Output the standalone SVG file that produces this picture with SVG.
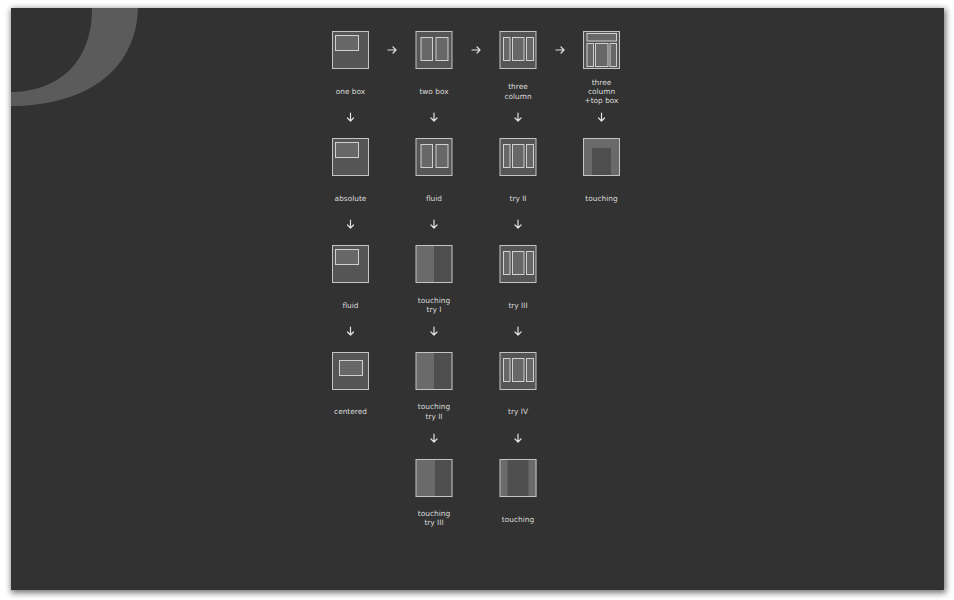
<svg xmlns="http://www.w3.org/2000/svg" width="954" height="600" viewBox="0 0 954 600">
<defs>
<filter id="sh" x="-5%" y="-5%" width="110%" height="110%"><feGaussianBlur stdDeviation="3"/></filter>
<clipPath id="pc"><rect x="11" y="8" width="933" height="582"/></clipPath>
<style>
.box{fill:#555;stroke:#c4c4c4;stroke-width:1}
.in{fill:#676767;stroke:#d0d0d0;stroke-width:1}
.lt{fill:#6a6a6a}
.dk{fill:#4e4e4e}
.fr{fill:none;stroke:#c4c4c4;stroke-width:1}
.lb{font-family:"DejaVu Sans",Verdana,sans-serif;font-size:7.4px;fill:#dcdcdc;text-anchor:middle}
.ar{fill:none;stroke:#e0e0e0;stroke-width:1.2;stroke-linecap:round;stroke-linejoin:round}
</style>
</defs>
<rect width="954" height="600" fill="#ffffff"/>
<rect x="11" y="9" width="935" height="584" fill="#000" opacity="0.55" filter="url(#sh)"/>
<rect x="11" y="8" width="933" height="582" fill="#323232"/>
<g clip-path="url(#pc)">
<path fill="#5b5b5b" d="M92,0 L92,8 C92,70 50,92 11,92 L0,92 L0,106 L11,106 C80,106 136,75 138,8 L138,0 Z"/>
</g>

<g id="connectors">
<path class="ar" d="M388,50 H396 M393,47 L396,50 L393,53"/>
<path class="ar" d="M472,50 H480 M477,47 L480,50 L477,53"/>
<path class="ar" d="M556,50 H564 M561,47 L564,50 L561,53"/>
<path class="ar" d="M350.5,113 V121 M347.5,118 L350.5,121 L353.5,118"/>
<path class="ar" d="M434,113 V121 M431,118 L434,121 L437,118"/>
<path class="ar" d="M518,113 V121 M515,118 L518,121 L521,118"/>
<path class="ar" d="M601.5,113 V121 M598.5,118 L601.5,121 L604.5,118"/>
<path class="ar" d="M350.5,220 V228 M347.5,225 L350.5,228 L353.5,225"/>
<path class="ar" d="M434,220 V228 M431,225 L434,228 L437,225"/>
<path class="ar" d="M518,220 V228 M515,225 L518,228 L521,225"/>
<path class="ar" d="M350.5,327 V335 M347.5,332 L350.5,335 L353.5,332"/>
<path class="ar" d="M434,327 V335 M431,332 L434,335 L437,332"/>
<path class="ar" d="M518,327 V335 M515,332 L518,335 L521,332"/>
<path class="ar" d="M434,434 V442 M431,439 L434,442 L437,439"/>
<path class="ar" d="M518,434 V442 M515,439 L518,442 L521,439"/>
</g>

<g id="one-box">
<rect class="box" x="332.5" y="31.5" width="36" height="37"/>
<rect class="in" x="335.5" y="35.5" width="23" height="15"/>
<text class="lb" x="350.5" y="93.5">one box</text>
</g>
<g id="two-box">
<rect class="box" x="416" y="31.5" width="36" height="37"/>
<rect class="in" x="421" y="37.5" width="11.5" height="23"/>
<rect class="in" x="436" y="37.5" width="12" height="23"/>
<text class="lb" x="434" y="93.5">two box</text>
</g>
<g id="three-column">
<rect class="box" x="500" y="31.5" width="36" height="37"/>
<rect class="in" x="503.5" y="37.5" width="6.5" height="23"/>
<rect class="in" x="512.5" y="37.5" width="11.5" height="23"/>
<rect class="in" x="526.5" y="37.5" width="7" height="23"/>
<text class="lb" x="518" y="89.2">three</text>
<text class="lb" x="518" y="98.5">column</text>
</g>
<g id="three-column-top-box">
<rect class="box" x="583.5" y="31.5" width="36" height="37"/>
<rect class="in" x="587" y="33.5" width="29.5" height="7.5"/>
<rect class="in" x="587" y="43.5" width="6.5" height="23"/>
<rect class="in" x="595.5" y="43.5" width="12.5" height="23"/>
<rect class="in" x="610" y="43.5" width="6.5" height="23"/>
<text class="lb" x="601.5" y="84.5">three</text>
<text class="lb" x="601.5" y="93.8">column</text>
<text class="lb" x="601.5" y="103.2">+top box</text>
</g>

<g id="absolute">
<rect class="box" x="332.5" y="138.5" width="36" height="37"/>
<rect class="in" x="335.5" y="142.5" width="23" height="15"/>
<text class="lb" x="350.5" y="200.5">absolute</text>
</g>
<g id="fluid-2">
<rect class="box" x="416" y="138.5" width="36" height="37"/>
<rect class="in" x="421" y="144.5" width="11.5" height="23"/>
<rect class="in" x="436" y="144.5" width="12" height="23"/>
<text class="lb" x="434" y="200.5">fluid</text>
</g>
<g id="try-ii">
<rect class="box" x="500" y="138.5" width="36" height="37"/>
<rect class="in" x="503.5" y="144.5" width="6.5" height="23"/>
<rect class="in" x="512.5" y="144.5" width="11.5" height="23"/>
<rect class="in" x="526.5" y="144.5" width="7" height="23"/>
<text class="lb" x="518" y="200.5">try II</text>
</g>
<g id="touching-4">
<rect class="lt" x="583" y="138" width="37" height="38"/>
<rect class="dk" x="592" y="148" width="19" height="27.5"/>
<rect class="fr" x="583.5" y="138.5" width="36" height="37"/>
<text class="lb" x="601.5" y="200.5">touching</text>
</g>

<g id="fluid-1">
<rect class="box" x="332.5" y="245.5" width="36" height="37"/>
<rect class="in" x="335.5" y="249.5" width="23" height="15"/>
<text class="lb" x="350.5" y="307.5">fluid</text>
</g>
<g id="touching-try-i">
<rect class="lt" x="416" y="245" width="18.5" height="38"/>
<rect class="dk" x="434.5" y="245" width="18" height="38"/>
<rect class="fr" x="416" y="245.5" width="36" height="37"/>
<text class="lb" x="434" y="303.2">touching</text>
<text class="lb" x="434" y="312.2">try I</text>
</g>
<g id="try-iii">
<rect class="box" x="500" y="245.5" width="36" height="37"/>
<rect class="in" x="503.5" y="251.5" width="6.5" height="23"/>
<rect class="in" x="512.5" y="251.5" width="11.5" height="23"/>
<rect class="in" x="526.5" y="251.5" width="7" height="23"/>
<text class="lb" x="518" y="307.5">try III</text>
</g>

<g id="centered">
<rect class="box" x="332.5" y="352.5" width="36" height="37"/>
<rect class="in" x="339.5" y="360.5" width="23" height="15"/>
<text class="lb" x="350.5" y="414.2">centered</text>
</g>
<g id="touching-try-ii">
<rect class="lt" x="416" y="352" width="18.5" height="38"/>
<rect class="dk" x="434.5" y="352" width="18" height="38"/>
<rect class="fr" x="416" y="352.5" width="36" height="37"/>
<text class="lb" x="434" y="409.2">touching</text>
<text class="lb" x="434" y="419.2">try II</text>
</g>
<g id="try-iv">
<rect class="box" x="500" y="352.5" width="36" height="37"/>
<rect class="in" x="503.5" y="358.5" width="6.5" height="23"/>
<rect class="in" x="512.5" y="358.5" width="11.5" height="23"/>
<rect class="in" x="526.5" y="358.5" width="7" height="23"/>
<text class="lb" x="518" y="414.2">try IV</text>
</g>

<g id="touching-try-iii">
<rect class="lt" x="416" y="459" width="19" height="38"/>
<rect class="dk" x="435" y="459" width="17.5" height="38"/>
<rect class="fr" x="416" y="459.5" width="36" height="37"/>
<text class="lb" x="434" y="515.8">touching</text>
<text class="lb" x="434" y="525.2">try III</text>
</g>
<g id="touching-3">
<rect class="lt" x="500" y="459" width="36.5" height="38"/>
<rect class="dk" x="507.5" y="459" width="21" height="38"/>
<rect class="fr" x="500" y="459.5" width="36" height="37"/>
<text class="lb" x="518" y="521.8">touching</text>
</g>
</svg>
